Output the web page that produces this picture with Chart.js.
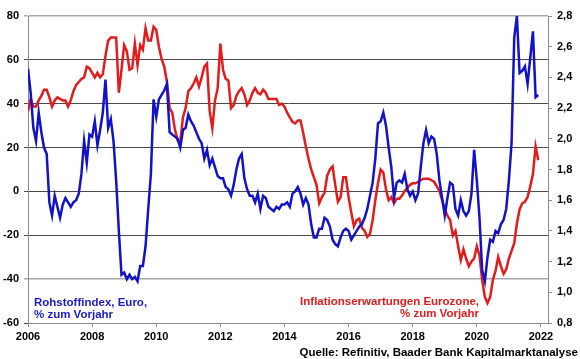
<!DOCTYPE html>
<html>
<head>
<meta charset="utf-8">
<script src="https://cdn.jsdelivr.net/npm/chart.js@4"></script>
<style>
  body { margin: 0; background: #fff; }
  #wrap { position: relative; width: 580px; height: 359px; }
  .txt { position: absolute; font-family: "Liberation Sans", Arial, sans-serif; font-weight: bold; font-size: 11.5px; line-height: 12px; white-space: nowrap; }
</style>
</head>
<body>
<div id="wrap">
  <canvas id="chart"></canvas>
  <div class="txt" style="left:34px; top:296px; color:#1a1acc;">Rohstoffindex, Euro,<br>% zum Vorjahr</div>
  <div class="txt" style="right:101px; top:295px; color:#e21c1c; text-align:right;">Inflationserwartungen Eurozone,<br>% zum Vorjahr</div>
  <div class="txt" style="right:2px; top:346px; color:#000;">Quelle: Refinitiv, Baader Bank Kapitalmarktanalyse</div>
</div>
<script>
// Monatswerte Jan 2006 - Dez 2021, eine Zeile pro Jahr
const startJahr = 2006;

// Rohstoffindex, Euro, % zum Vorjahr (linke Achse)
const rohstoffe = [
  56, 45, 29, 23, 36, 27, 20, 17, -5, -11, -2, -7,      // 2006
  -12, -6, -3, -5, -7, -5, -4, -1, 8, 23, 13, 26,       // 2007
  25, 32, 21, 28, 36, 51, 29, 33, 23, 5, -18, -38,      // 2008
  -37, -40, -38, -40, -39, -41, -34, -34, -25, -8, 8, 42, // 2009
  34, 42, 44, 46, 49, 27, 26, 25, 24, 20, 28, 29,       // 2010
  35, 32, 30, 27, 24, 22, 15, 19, 12, 15, 11, 7,        // 2011
  6, 6, 2, 1, -2, 3, 10, 15, 17, 6, 1, -2,              // 2012
  -2, -5, -1, -8, -2, -3, -7, -8, -9, -7, -8, -6,       // 2013
  -6, -5, -7, -1, 0, 2, -1, -6, -3, -6, -15, -21,       // 2014
  -21, -17, -17, -12, -13, -16, -22, -24, -25, -21, -18, -17, // 2015
  -18, -22, -20, -18, -16, -15, -12, -8, -2, 4, 15, 31, // 2016
  32, 36, 30, 20, 11, -3, 4, 5, 4, 8, 1, -2,            // 2017
  0, -4, -1, 11, 22, 28, 22, 25, 24, 17, 5, -3,         // 2018
  -11, -3, 4, 3, -8, -11, -4, -9, -11, -9, -1, 19,      // 2019
  5, -12, -36, -41, -30, -22, -23, -18, -19, -15, -13, -8, // 2020
  5, 22, 70, 80, 54, 55, 57, 49, 61, 73, 43, 44         // 2021
];

// Inflationserwartungen Eurozone (rechte Achse)
const inflation = [
  2.18, 2.26, 2.21, 2.21, 2.25, 2.28, 2.32, 2.32, 2.27, 2.21, 2.25, 2.27, // 2006
  2.26, 2.25, 2.25, 2.21, 2.25, 2.31, 2.35, 2.37, 2.39, 2.40, 2.47, 2.46, // 2007
  2.43, 2.40, 2.43, 2.40, 2.42, 2.54, 2.64, 2.66, 2.66, 2.66, 2.30, 2.45, // 2008
  2.61, 2.57, 2.45, 2.46, 2.62, 2.48, 2.61, 2.58, 2.72, 2.64, 2.64, 2.73, // 2009
  2.71, 2.60, 2.52, 2.47, 2.37, 2.20, 2.17, 2.06, 1.99, 1.98, 2.14, 2.20, // 2010
  2.31, 2.33, 2.36, 2.40, 2.34, 2.40, 2.47, 2.49, 2.18, 2.07, 2.25, 2.33, // 2011
  2.62, 2.45, 2.39, 2.38, 2.20, 2.22, 2.28, 2.31, 2.33, 2.29, 2.22, 2.25, // 2012
  2.30, 2.33, 2.30, 2.29, 2.32, 2.30, 2.26, 2.26, 2.26, 2.26, 2.22, 2.23, // 2013
  2.21, 2.17, 2.14, 2.11, 2.10, 2.12, 2.12, 2.04, 1.95, 1.87, 1.80, 1.75, // 2014
  1.70, 1.58, 1.62, 1.65, 1.76, 1.80, 1.82, 1.70, 1.59, 1.62, 1.75, 1.75, // 2015
  1.62, 1.52, 1.43, 1.47, 1.48, 1.42, 1.40, 1.36, 1.38, 1.47, 1.60, 1.71, // 2016
  1.80, 1.78, 1.67, 1.60, 1.62, 1.58, 1.61, 1.61, 1.63, 1.66, 1.68, 1.70, // 2017
  1.71, 1.71, 1.72, 1.73, 1.74, 1.74, 1.74, 1.73, 1.72, 1.69, 1.66, 1.60, // 2018
  1.54, 1.50, 1.47, 1.37, 1.40, 1.30, 1.21, 1.28, 1.22, 1.17, 1.20, 1.22, // 2019
  1.30, 1.24, 1.08, 0.97, 0.93, 0.97, 1.08, 1.14, 1.23, 1.17, 1.12, 1.15, // 2020
  1.22, 1.27, 1.32, 1.45, 1.54, 1.58, 1.59, 1.62, 1.69, 1.77, 1.95, 1.86  // 2021
];

// achsen
const jahrTicks = [2006, 2008, 2010, 2012, 2014, 2016, 2018, 2020, 2022];
const linksMin = -60, linksMax = 80, linksStep = 20;
const rechtsMin = 0.8, rechtsMax = 2.8, rechtsStep = 0.2;

const zeit = i => startJahr + i / 12;
const blauDaten = rohstoffe.map((v, i) => ({ x: zeit(i), y: v }));
const rotDaten  = inflation.map((v, i) => ({ x: zeit(i), y: v }));

Chart.defaults.font.family = '"Liberation Sans", Arial, sans-serif';
Chart.defaults.font.weight = 'bold';
Chart.defaults.font.size = 11;
Chart.defaults.color = '#000';

const achsGrau = '#8a8a8a';

new Chart(document.getElementById('chart'), {
  type: 'line',
  data: {
    datasets: [
      { label: 'Rohstoffindex', data: blauDaten, yAxisID: 'y', borderColor: '#1212c8', borderWidth: 2.5, pointRadius: 0, tension: 0 },
      { label: 'Inflationserwartungen', data: rotDaten, yAxisID: 'y2', borderColor: '#e41b1b', borderWidth: 2.5, pointRadius: 0, tension: 0 }
    ]
  },
  options: {
    responsive: true,
    maintainAspectRatio: false,
    animation: false,
    layout: { padding: { top: 16, left: 0, right: 0, bottom: 0 } },
    plugins: { legend: { display: false }, tooltip: { enabled: false } },
    scales: {
      x: {
        type: 'linear',
        min: 2006,
        max: 2022.22,
        afterBuildTicks: s => { s.ticks = jahrTicks.map(v => ({ value: v })); },
        ticks: { callback: v => String(v), padding: 3, maxRotation: 0 },
        grid: { drawOnChartArea: false, tickLength: 4, color: achsGrau },
        border: { color: achsGrau },
        afterFit: s => { s.height = 36; }
      },
      y: {
        position: 'left',
        min: linksMin,
        max: linksMax,
        ticks: { stepSize: linksStep, padding: 5 },
        grid: {
          tickLength: 4,
          color: c => (c.tick && (c.tick.value === 80 || c.tick.value === -40)) ? '#a8a8a8' : '#4a4a4a',
          lineWidth: c => (c.tick && (c.tick.value === 80 || c.tick.value === -40)) ? 1.5 : 1
        },
        border: { color: achsGrau },
        afterFit: s => { s.width = 28; }
      },
      y2: {
        position: 'right',
        min: rechtsMin,
        max: rechtsMax,
        ticks: { stepSize: rechtsStep, padding: 5, callback: v => v.toFixed(1).replace('.', ',') },
        grid: { drawOnChartArea: false, tickLength: 4, color: achsGrau },
        border: { color: achsGrau },
        afterFit: s => { s.width = 32; }
      }
    }
  }
});
</script>
</body>
</html>
